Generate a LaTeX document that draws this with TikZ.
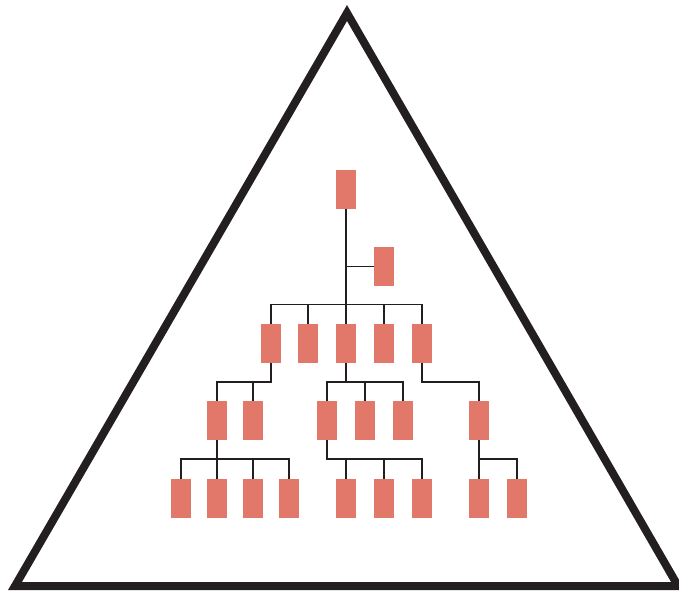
\documentclass[tikz,border=0pt]{standalone}
\definecolor{boxred}{RGB}{226,120,106}
\definecolor{ink}{RGB}{35,31,32}
\begin{document}
\begin{tikzpicture}[x=1pt,y=-1pt,
  orgbox/.style={rectangle,fill=boxred,minimum width=20pt,minimum height=39pt,inner sep=0pt},
  link/.style={draw=ink,line width=1.3pt},
  frame/.style={draw=ink,line width=8pt,line join=miter}]
\useasboundingbox (0,0) rectangle (679,593);
% frame triangle
\draw[frame] (15,586) -- (347,13) -- (678,586) -- cycle;
% nodes
\node[orgbox] (r) at (346,189.5) {};
\node[orgbox] (s) at (384,266.5) {};
\node[orgbox] (c1) at (271,343.5) {};
\node[orgbox] (c2) at (308,343.5) {};
\node[orgbox] (c3) at (346,343.5) {};
\node[orgbox] (c4) at (384,343.5) {};
\node[orgbox] (c5) at (422,343.5) {};
\node[orgbox] (d1) at (217,420.5) {};
\node[orgbox] (d2) at (253,420.5) {};
\node[orgbox] (d3) at (327,420.5) {};
\node[orgbox] (d4) at (365,420.5) {};
\node[orgbox] (d5) at (403,420.5) {};
\node[orgbox] (d6) at (479,420.5) {};
\node[orgbox] (e1) at (181,498.5) {};
\node[orgbox] (e2) at (217,498.5) {};
\node[orgbox] (e3) at (253,498.5) {};
\node[orgbox] (e4) at (289,498.5) {};
\node[orgbox] (e5) at (346,498.5) {};
\node[orgbox] (e6) at (384,498.5) {};
\node[orgbox] (e7) at (422,498.5) {};
\node[orgbox] (e8) at (479,498.5) {};
\node[orgbox] (e9) at (517,498.5) {};
% bus levels
\coordinate (b1) at (0,304.5);
\coordinate (b2) at (0,382);
\coordinate (b3) at (0,459);
% root links
\draw[link] (r.south) -- (c3.north);
\draw[link] (r.south |- s.west) -- (s.west);
\draw[link] (c1.north) -- (c1.north |- b1) -- (c5.north |- b1) -- (c5.north);
\draw[link] (c2.north |- b1) -- (c2.north);
\draw[link] (c4.north |- b1) -- (c4.north);
% level 2
\draw[link] (c1.south) -- (c1.south |- b2) -- (d1.north |- b2) -- (d1.north);
\draw[link] (d2.north |- b2) -- (d2.north);
\draw[link] (c3.south) -- (c3.south |- b2);
\draw[link] (d3.north) -- (d3.north |- b2) -- (d5.north |- b2) -- (d5.north);
\draw[link] (d4.north |- b2) -- (d4.north);
\draw[link] (c5.south) -- (c5.south |- b2) -- (d6.north |- b2) -- (d6.north);
% level 3
\draw[link] (d1.south) -- (e2.north);
\draw[link] (e1.north) -- (e1.north |- b3) -- (e4.north |- b3) -- (e4.north);
\draw[link] (e3.north |- b3) -- (e3.north);
\draw[link] (d3.south) -- (d3.south |- b3) -- (e7.north |- b3) -- (e7.north);
\draw[link] (e5.north |- b3) -- (e5.north);
\draw[link] (e6.north |- b3) -- (e6.north);
\draw[link] (d6.south) -- (e8.north);
\draw[link] (e8.north |- b3) -- (e9.north |- b3) -- (e9.north);
\end{tikzpicture}
\end{document}
